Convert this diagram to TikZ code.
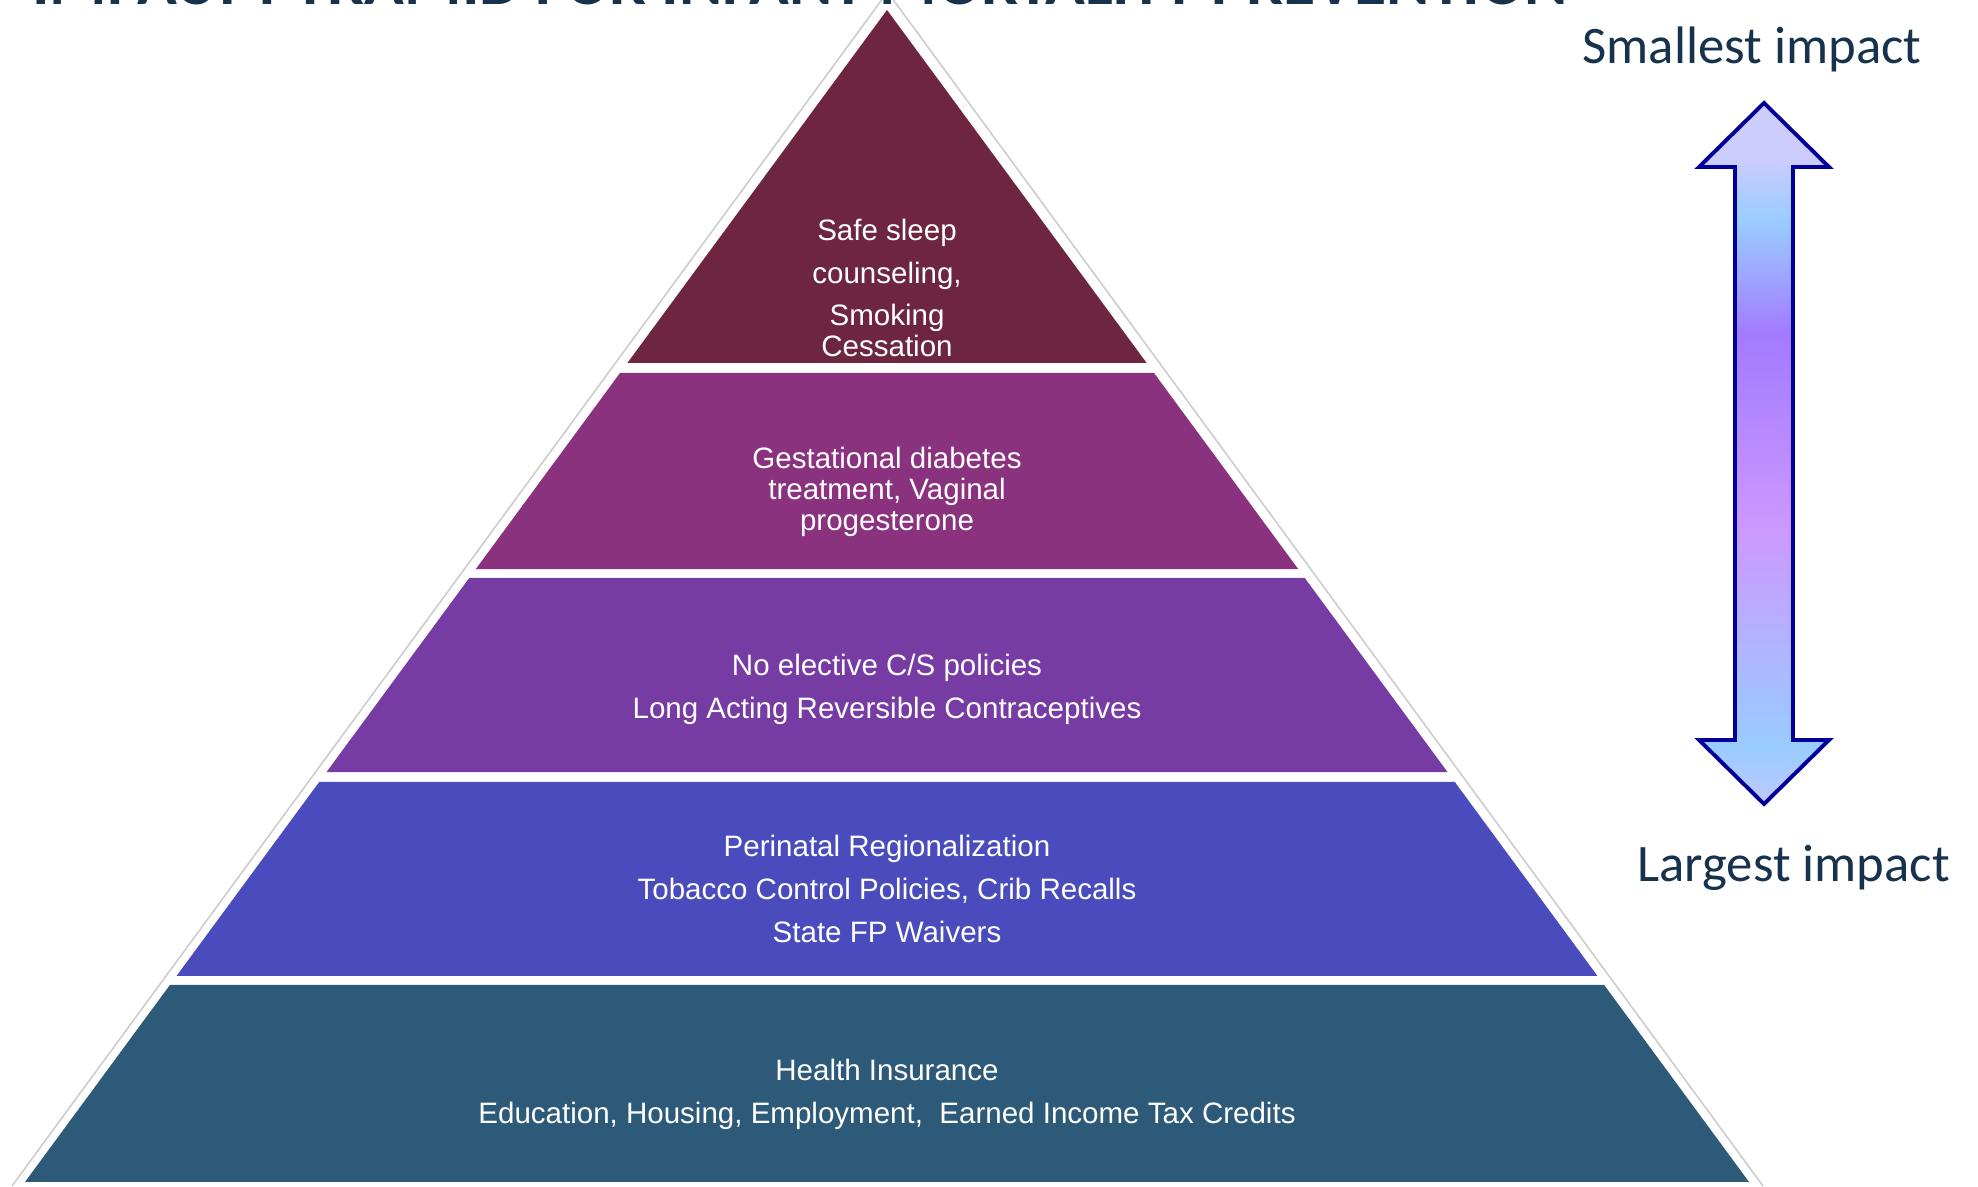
\documentclass[tikz,border=0pt]{standalone}
\usepackage{fontspec}
\setmainfont{Liberation Sans}
\newfontfamily\labelfont{Carlito}
\usetikzlibrary{calc}

% tier colours, bottom to top
\definecolor{tierE}{HTML}{2C5A78}
\definecolor{tierD}{HTML}{4A4CBE}
\definecolor{tierC}{HTML}{763CA4}
\definecolor{tierB}{HTML}{8A327E}
\definecolor{tierA}{HTML}{6E2640}
\definecolor{navytext}{HTML}{17324D}
\definecolor{arrowline}{HTML}{000099}
\definecolor{arrLav}{HTML}{CCCCFF}
\definecolor{arrLavB}{HTML}{C0C8FF}
\definecolor{arrSky}{HTML}{99CCFF}
\definecolor{arrPurple}{HTML}{A37AFF}
\definecolor{arrViolet}{HTML}{CC99FF}

% fill of the double arrow (25bp..75bp covers the path)
\pgfdeclareverticalshading{impactshade}{100bp}{
  color(0bp)=(arrLavB); color(25bp)=(arrLavB); color(29bp)=(arrSky);
  color(44.5bp)=(arrViolet); color(58.5bp)=(arrPurple);
  color(66.5bp)=(arrSky); color(71bp)=(arrLav); color(100bp)=(arrLav)}

\tikzset{
  tiertext/.style={text=white, align=center, inner sep=0pt,
    font=\fontsize{8.4}{12.2}\selectfont},
  impactlabel/.style={text=navytext, inner sep=0pt, anchor=base,
    font=\labelfont\fontsize{15}{18}\selectfont},
  rim/.style={draw=gray!40, line width=0.45pt},
  impactarrow/.style={draw=arrowline, line width=1.1pt, line join=miter,
    shading=impactshade}
}

\begin{document}
\begin{tikzpicture}
    \useasboundingbox (0,0) rectangle (19.78,11.87);
  % heading, cut off by the top edge
  \node[text=navytext, anchor=base, inner sep=0pt,
        font=\labelfont\bfseries\fontsize{18.7}{22}\selectfont] (heading)
    at (8.0,11.82) {IMPACT PYRAMID FOR INFANT MORTALITY PREVENTION};

  % pyramid corners
  \coordinate (apex) at (8.87,11.77);
  \coordinate (bl) at (0.25,0.05);
  \coordinate (br) at (17.49,0.05);

  % thin outline just outside the tiers
  \draw[rim] (0.12,0.01) -- (8.875,11.95) -- (17.63,0.01);

  % tiers as slices of the triangle (fractions of its height)
  \foreach \lo/\hi/\col in {0/0.1681/tierE, 0.1758/0.3413/tierD,
      0.3498/0.5154/tierC, 0.5230/0.6903/tierB, 0.6988/1/tierA}
    \fill[\col] ($(bl)!\lo!(apex)$) -- ($(br)!\lo!(apex)$)
      -- ($(br)!\hi!(apex)$) -- ($(bl)!\hi!(apex)$) -- cycle;

  % tier texts
  \node[tiertext] (tierA) at (8.87,8.99)
    {Safe sleep\\counseling,\\Smoking\\[-3.4pt]Cessation};
  \node[tiertext, font=\fontsize{8.4}{8.8}\selectfont] (tierB) at (8.87,6.955)
    {Gestational diabetes\\treatment, Vaginal\\progesterone};
  \node[tiertext] (tierC) at (8.87,4.975)
    {No elective C/S policies\\Long Acting Reversible Contraceptives};
  \node[tiertext] (tierD) at (8.87,2.98)
    {Perinatal Regionalization\\Tobacco Control Policies, Crib Recalls\\State FP Waivers};
  \node[tiertext] (tierE) at (8.87,0.93)
    {Health Insurance\\Education, Housing, Employment,\ \ Earned Income Tax Credits};

  % double arrow on the right
  \def\cx{17.64}
  \shade[impactarrow]
    (\cx,10.84) -- (\cx+0.65,10.20) -- (\cx+0.29,10.20) -- (\cx+0.29,4.47)
    -- (\cx+0.65,4.47) -- (\cx,3.83) -- (\cx-0.65,4.47) -- (\cx-0.29,4.47)
    -- (\cx-0.29,10.20) -- (\cx-0.65,10.20) -- cycle;

  \node[impactlabel] (smallest) at (17.52,11.23) {Smallest impact};
  \node[impactlabel] (largest) at (17.935,3.05) {Largest impact};

\end{tikzpicture}
\end{document}
